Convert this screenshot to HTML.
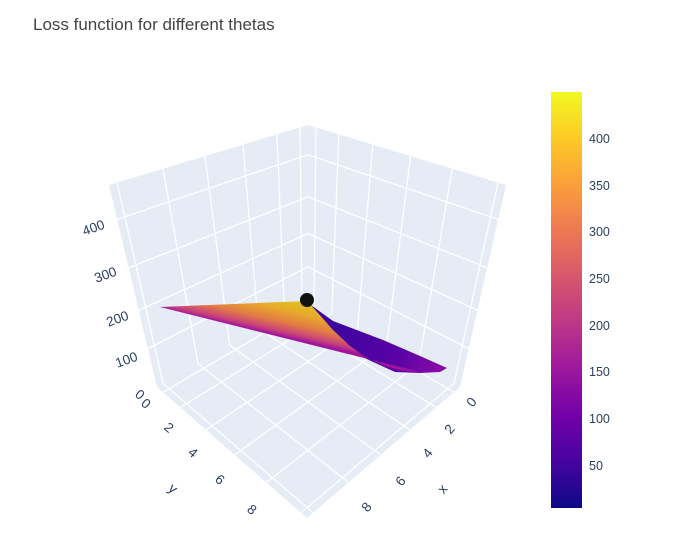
<!DOCTYPE html>
<html><head><meta charset="utf-8"><style>
html,body{margin:0;padding:0;background:#fff;}
svg{display:block;font-family:"Liberation Sans",sans-serif;}
</style></head><body>
<svg id="s" width="674" height="554" viewBox="0 0 674 554" xmlns="http://www.w3.org/2000/svg">
<defs>
<linearGradient id="cb" x1="0" y1="1" x2="0" y2="0">
<stop offset="0" stop-color="#0d0887"/><stop offset="0.111" stop-color="#46039f"/>
<stop offset="0.222" stop-color="#7201a8"/><stop offset="0.333" stop-color="#9c179e"/>
<stop offset="0.444" stop-color="#bd3786"/><stop offset="0.556" stop-color="#d8576b"/>
<stop offset="0.667" stop-color="#ed7953"/><stop offset="0.778" stop-color="#fb9f3a"/>
<stop offset="0.889" stop-color="#fdca26"/><stop offset="1" stop-color="#f0f921"/>
</linearGradient>
<linearGradient id="sf" gradientUnits="userSpaceOnUse" x1="307" y1="301" x2="298" y2="340">
<stop offset="0" stop-color="#d9c81e"/><stop offset="0.35" stop-color="#e9a82c"/>
<stop offset="0.65" stop-color="#e27a45"/><stop offset="0.88" stop-color="#c8427a"/>
<stop offset="1" stop-color="#a0169a"/>
</linearGradient>
<linearGradient id="bl" gradientUnits="userSpaceOnUse" x1="340" y1="325" x2="440" y2="372">
<stop offset="0" stop-color="#3d049e"/><stop offset="0.6" stop-color="#5a02a6"/><stop offset="1" stop-color="#8a0aa8"/>
</linearGradient>
</defs>
<text x="33" y="30" font-size="17" fill="#444">Loss function for different thetas</text>
<g id="box"></g>
<polygon points="308,303 333,321 383,340 420,356 447,368 440,372 420,373 395,372 360,356 330,336" fill="url(#bl)"/>
<polygon points="160,307 307,301 318,313 333,330 350,346 367,358 385,366 400,370 420,372" fill="url(#sf)"/>
<circle cx="307" cy="300" r="7" fill="#111"/>
<rect x="551" y="92" width="31" height="416" fill="url(#cb)"/>
<g font-size="12.5" fill="#2a3f5f">
<text x="589" y="143">400</text><text x="589" y="190">350</text><text x="589" y="236">300</text>
<text x="589" y="283">250</text><text x="589" y="330">200</text><text x="589" y="376">150</text>
<text x="589" y="423">100</text><text x="589" y="470">50</text>
</g>
<g font-size="13.5" fill="#2a3f5f" text-anchor="middle">
<text transform="translate(95,232) rotate(-20)">400</text>
<text transform="translate(107,279) rotate(-20)">300</text>
<text transform="translate(119,323) rotate(-20)">200</text>
<text transform="translate(128,364) rotate(-20)">100</text>
<text transform="translate(137,398) rotate(40)">0</text>
<text transform="translate(143,407) rotate(40)">0</text>
<text transform="translate(166,431) rotate(40)">2</text>
<text transform="translate(190,456) rotate(40)">4</text>
<text transform="translate(217,483) rotate(40)">6</text>
<text transform="translate(249,513) rotate(40)">8</text>
<text transform="translate(170,492) rotate(40)" font-size="14">y</text>
<text transform="translate(475,405) rotate(-50)">0</text>
<text transform="translate(453,432) rotate(-50)">2</text>
<text transform="translate(431,456) rotate(-50)">4</text>
<text transform="translate(404,484) rotate(-50)">6</text>
<text transform="translate(370,510) rotate(-50)">8</text>
<text transform="translate(446,492) rotate(-50)" font-size="14">x</text>
</g>
</svg>
<script>
(function(){
var g=document.getElementById('box'),NS='http://www.w3.org/2000/svg';
function bil(q,s,t){
 return [q[0][0]*(1-s)*(1-t)+q[1][0]*s*(1-t)+q[2][0]*(1-s)*t+q[3][0]*s*t,
         q[0][1]*(1-s)*(1-t)+q[1][1]*s*(1-t)+q[2][1]*(1-s)*t+q[3][1]*s*t];}
function poly(q){var p=document.createElementNS(NS,'polygon');
 p.setAttribute('points',[q[0],q[1],q[3],q[2]].map(function(a){return a.join(',')}).join(' '));
 p.setAttribute('fill','#e5ecf6');g.appendChild(p);}
function line(a,b){var l=document.createElementNS(NS,'line');
 l.setAttribute('x1',a[0]);l.setAttribute('y1',a[1]);l.setAttribute('x2',b[0]);l.setAttribute('y2',b[1]);
 l.setAttribute('stroke','#fff');l.setAttribute('stroke-width','1.3');g.appendChild(l);}
var B=[308,300],BT=[308,125],L=[157,387],LT=[109,185],R=[460,387],RT=[506,185],F=[307,518];
var LW=[B,L,BT,LT], RW=[B,R,BT,RT], FL=[B,L,R,F];
poly(LW);poly(RW);poly(FL);
var zf=[0.19,0.38,0.59,0.83];
var vs=[0.04,0.156,0.327,0.518,0.729,0.96];
[LW,RW].forEach(function(w){
 zf.forEach(function(t){line(bil(w,0,t),bil(w,1,t));});
 vs.forEach(function(s){line(bil(w,s,0),bil(w,s,1));});
});
vs.forEach(function(s){line(bil(FL,s,0),bil(FL,s,1));line(bil(FL,0,s),bil(FL,1,s));});
})();
</script>
</body></html>
